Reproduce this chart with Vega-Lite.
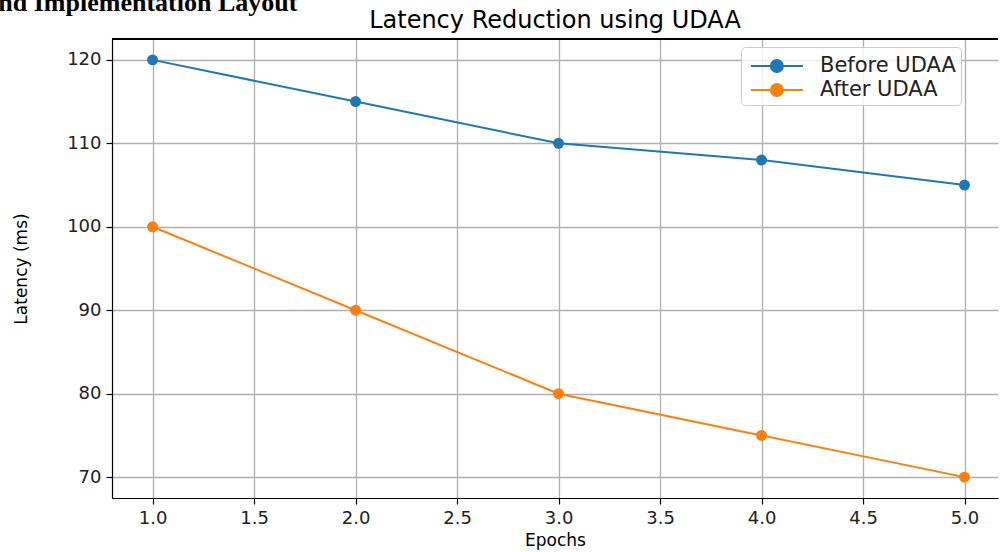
{
  "$schema": "https://vega.github.io/schema/vega-lite/v6.json",
  "autosize": {"type": "none"},
  "padding": {"left": 112, "top": 39, "right": 2, "bottom": 54},
  "width": 886,
  "height": 459,
  "title": {
    "text": "Latency Reduction using UDAA",
    "font": "DejaVu Sans",
    "fontSize": 24,
    "fontWeight": "normal",
    "color": "#000000",
    "offset": 8,
    "dy": 51
  },
  "datasets": {
    "latency": [
      {"epoch": 1, "latency": 120, "series": "Before UDAA"},
      {"epoch": 2, "latency": 115, "series": "Before UDAA"},
      {"epoch": 3, "latency": 110, "series": "Before UDAA"},
      {"epoch": 4, "latency": 108, "series": "Before UDAA"},
      {"epoch": 5, "latency": 105, "series": "Before UDAA"},
      {"epoch": 1, "latency": 100, "series": "After UDAA"},
      {"epoch": 2, "latency": 90, "series": "After UDAA"},
      {"epoch": 3, "latency": 80, "series": "After UDAA"},
      {"epoch": 4, "latency": 75, "series": "After UDAA"},
      {"epoch": 5, "latency": 70, "series": "After UDAA"}
    ],
    "note": [
      {"label": "nd Implementation Layout"}
    ]
  },
  "layer": [
    {
      "data": {"name": "latency"},
      "mark": {"type": "line", "strokeWidth": 2, "point": {"filled": true, "size": 120}},
      "encoding": {
        "x": {
          "field": "epoch",
          "type": "quantitative",
          "scale": {"domain": [0.8, 5.165], "nice": false, "zero": false},
          "axis": {"values": [1, 1.5, 2, 2.5, 3, 3.5, 4, 4.5, 5], "format": ".1f", "title": "Epochs", "titlePadding": 5}
        },
        "y": {
          "field": "latency",
          "type": "quantitative",
          "scale": {"domain": [67.5, 122.5], "nice": false, "zero": false},
          "axis": {"values": [70, 80, 90, 100, 110, 120], "title": "Latency (ms)", "titlePadding": 36}
        },
        "color": {
          "field": "series",
          "type": "nominal",
          "scale": {"domain": ["Before UDAA", "After UDAA"], "range": ["#1f77b4", "#ff7f0e"]},
          "legend": {
            "title": null,
            "orient": "none",
            "legendX": 629,
            "legendY": 8,
            "fillColor": "rgba(255,255,255,0.8)",
            "strokeColor": "#cccccc",
            "cornerRadius": 4,
            "padding": 5,
            "symbolType": "M-0.7,0L3.3,0M0.84,0A0.46,0.46,0,1,1,1.76,0A0.46,0.46,0,1,1,0.84,0Z",
            "symbolSize": 676,
            "symbolStrokeWidth": 2,
            "labelFont": "DejaVu Sans",
            "labelFontSize": 21,
            "labelColor": "#222222",
            "labelOffset": 46,
            "rowPadding": 0,
            "encode": {
              "symbols": {
                "update": {
                  "fill": {"scale": "color", "field": "value"},
                  "stroke": {"scale": "color", "field": "value"},
                  "opacity": {"value": 1}
                }
              }
            }
          }
        }
      }
    },
    {
      "data": {"name": "latency"},
      "mark": {"type": "rule", "color": "#000000", "strokeWidth": 1.2},
      "encoding": {"y": {"datum": 122.5}}
    },
    {
      "data": {"name": "note"},
      "mark": {"type": "text", "font": "Liberation Serif", "fontWeight": "bold", "fontSize": 26, "align": "left", "baseline": "alphabetic", "clip": false, "color": "#000000"},
      "encoding": {
        "x": {"datum": 0.24},
        "y": {"datum": 125.9},
        "text": {"field": "label"}
      }
    }
  ],
  "config": {
    "view": {"stroke": null},
    "axis": {
      "domainColor": "#000000",
      "domainWidth": 1.2,
      "tickColor": "#000000",
      "tickSize": 6,
      "tickWidth": 1.2,
      "labelFont": "DejaVu Sans",
      "labelFontSize": 18,
      "labelColor": "#222222",
      "labelPadding": 5,
      "gridColor": "#b0b0b0",
      "gridWidth": 1.3,
      "titleFont": "DejaVu Sans",
      "titleFontSize": 17,
      "titleFontWeight": "normal",
      "titleColor": "#000000"
    }
  }
}
